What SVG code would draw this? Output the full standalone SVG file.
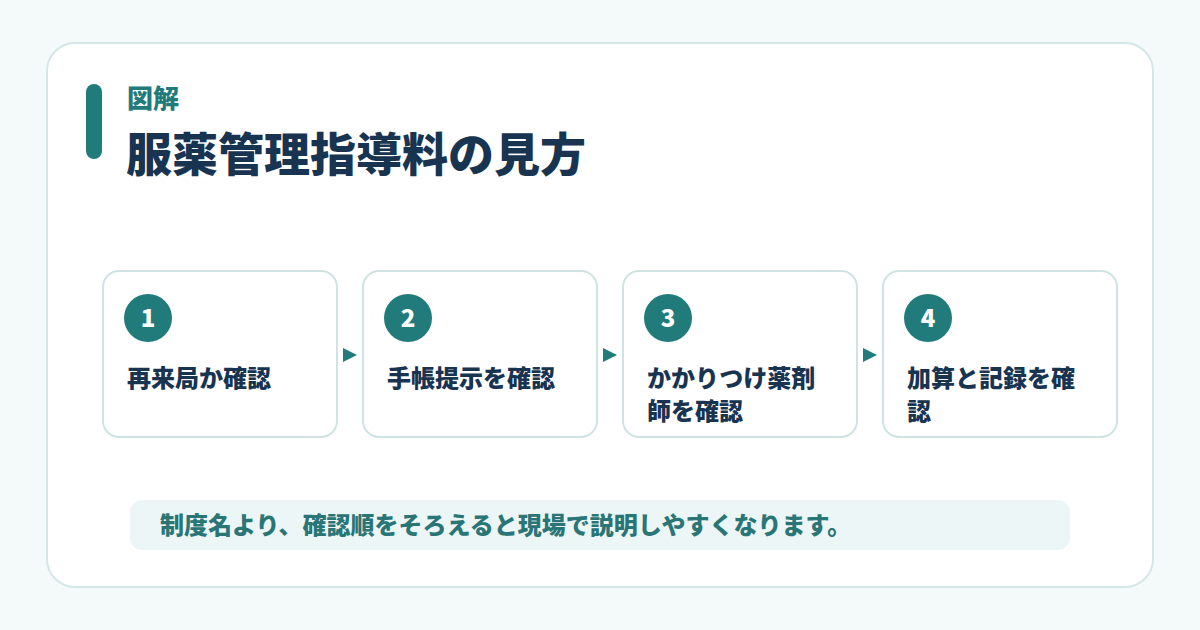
<svg xmlns="http://www.w3.org/2000/svg" width="1200" height="630" viewBox="0 0 1200 630">
<defs>
<style>
.jp{font-family:"Noto Sans CJK JP","Noto Sans",sans-serif;font-weight:900}
.card{fill:#ffffff;stroke:#cfe3e3;stroke-width:2}
.num{fill:#217b7b}
.numt{fill:#ffffff;font-size:24px;text-anchor:middle}
.lbl{fill:#183450;font-size:24px}
.arr{fill:#217b7b}
</style>
</defs>
<rect width="1200" height="630" fill="#f4f9fa"/>
<rect x="47" y="43" width="1106" height="544" rx="28" fill="#ffffff" stroke="#d5e6e6" stroke-width="2"/>
<rect x="86" y="84" width="16" height="75" rx="8" fill="#217b7b"/>
<text class="jp" x="127" y="108" font-size="26" fill="#217b7b">図解</text>
<text class="jp" x="126" y="171" font-size="46" fill="#183450">服薬管理指導料の見方</text>
<g id="connectors">
<polygon class="arr" points="343,348 357,355 343,362"/>
<polygon class="arr" points="603,348 617,355 603,362"/>
<polygon class="arr" points="863,348 877,355 863,362"/>
</g>
<g id="node1">
<rect class="card" x="103" y="271" width="234" height="166" rx="16"/>
<circle class="num" cx="148" cy="318" r="24"/>
<text class="jp numt" x="148" y="327">1</text>
<text class="jp lbl" x="127" y="387">再来局か確認</text>
</g>
<g id="node2">
<rect class="card" x="363" y="271" width="234" height="166" rx="16"/>
<circle class="num" cx="408" cy="318" r="24"/>
<text class="jp numt" x="408" y="327">2</text>
<text class="jp lbl" x="387" y="387">手帳提示を確認</text>
</g>
<g id="node3">
<rect class="card" x="623" y="271" width="234" height="166" rx="16"/>
<circle class="num" cx="668" cy="318" r="24"/>
<text class="jp numt" x="668" y="327">3</text>
<text class="jp lbl" x="647" y="387">かかりつけ薬剤</text>
<text class="jp lbl" x="647" y="420">師を確認</text>
</g>
<g id="node4">
<rect class="card" x="883" y="271" width="234" height="166" rx="16"/>
<circle class="num" cx="928" cy="318" r="24"/>
<text class="jp numt" x="928" y="327">4</text>
<text class="jp lbl" x="907" y="387">加算と記録を確</text>
<text class="jp lbl" x="907" y="420">認</text>
</g>
<g id="note">
<rect x="130" y="500" width="940" height="50" rx="12" fill="#edf6f7"/>
<text class="jp" x="160" y="534" font-size="24" fill="#2a7575">制度名より、確認順をそろえると現場で説明しやすくなります。</text>
</g>
</svg>
